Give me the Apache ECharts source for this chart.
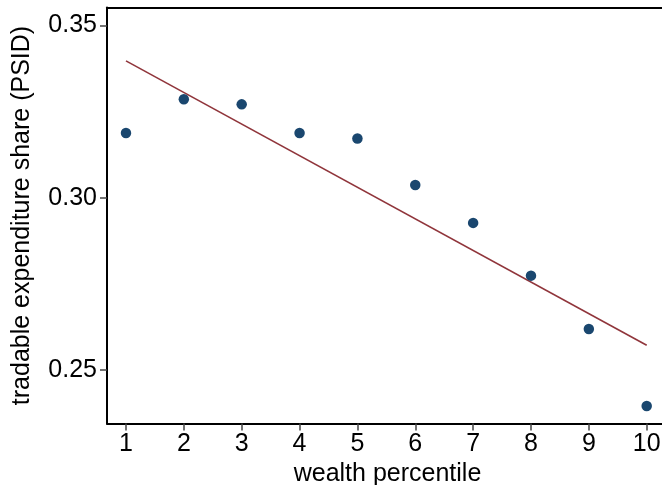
<!DOCTYPE html>
<html>
<head>
<meta charset="utf-8">
<script src="https://cdn.jsdelivr.net/npm/echarts@6/dist/echarts.min.js"></script>
<style>html,body{margin:0;padding:0;background:#fff;}#c{width:662px;height:485px;}</style>
</head>
<body>
<div id="c"></div>
<script>
var percentiles = [1, 2, 3, 4, 5, 6, 7, 8, 9, 10];
var shares = [0.3188, 0.3286, 0.3271, 0.3188, 0.3172, 0.3037, 0.2927, 0.2774, 0.2619, 0.2396];
var fitX = [1, 10];
var fitY = [0.3397, 0.2572];
var yTicks = [0.25, 0.30, 0.35];
var yTickLabels = ['0.25', '0.30', '0.35'];
var xTicks = [1, 2, 3, 4, 5, 6, 7, 8, 9, 10];

var font = 'Liberation Sans, Arial, Helvetica, sans-serif';
var xMin = 0.672, xMax = 10.368;
var chart = echarts.init(document.getElementById('c'), null, {renderer: 'canvas'});
chart.setOption({
  animation: false,
  backgroundColor: '#fff',
  grid: {left: 107, right: -6, top: 7.5, bottom: 61.5, outerBoundsMode: 'none', containLabel: false, show: false},
  xAxis: [{
    type: 'value', min: xMin, max: xMax,
    name: 'wealth percentile', nameLocation: 'middle', nameGap: 33,
    nameTextStyle: {fontSize: 25, color: '#000', fontFamily: font},
    axisLine: {show: true, onZero: false, lineStyle: {color: '#000', width: 2}},
    axisTick: {show: true, length: 7, customValues: xTicks, lineStyle: {color: '#444', width: 1.5}},
    axisLabel: {customValues: xTicks, fontSize: 25, color: '#000', fontFamily: font, margin: 8},
    splitLine: {show: false}
  }, {
    type: 'value', position: 'top', min: xMin, max: xMax,
    axisLine: {show: true, onZero: false, lineStyle: {color: '#000', width: 2}},
    axisTick: {show: false}, axisLabel: {show: false}, splitLine: {show: false}
  }],
  yAxis: {
    type: 'value', min: 0.2345, max: 0.3552,
    name: 'tradable expenditure share (PSID)', nameLocation: 'middle', nameGap: 72,
    nameTextStyle: {fontSize: 25, color: '#000', fontFamily: font},
    axisLine: {show: true, onZero: false, lineStyle: {color: '#000', width: 2}},
    axisTick: {show: true, length: 7, customValues: yTicks, lineStyle: {color: '#444', width: 1.5}},
    axisLabel: {customValues: yTicks, fontSize: 25, color: '#000', fontFamily: font, margin: 10,
      formatter: function (v) { var i = yTicks.indexOf(Math.round(v * 100) / 100); return i >= 0 ? yTickLabels[i] : ''; }},
    splitLine: {show: false}
  },
  series: [
    {
      type: 'line', data: fitX.map(function (x, i) { return [x, fitY[i]]; }),
      showSymbol: false, symbol: 'none',
      lineStyle: {color: '#90353b', width: 1.6, opacity: 1}, z: 2
    },
    {
      type: 'scatter', data: percentiles.map(function (x, i) { return [x, shares[i]]; }),
      symbolSize: 10.5, itemStyle: {color: '#1a476f', opacity: 1}, z: 3
    }
  ]
});
</script>
</body>
</html>
